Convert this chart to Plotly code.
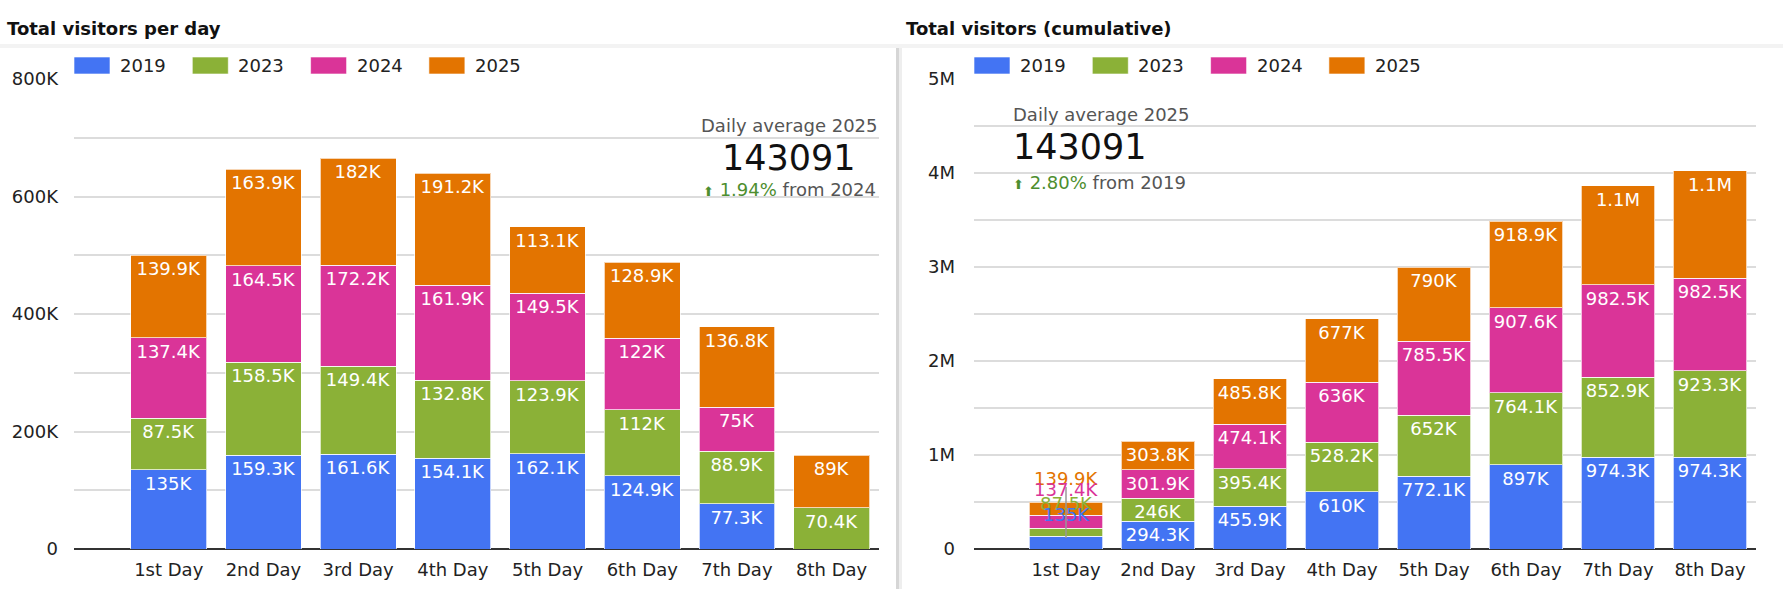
import plotly.graph_objects as go

# ---------------- data (values in thousands of visitors) ----------------
days = ["1st Day", "2nd Day", "3rd Day", "4th Day", "5th Day", "6th Day", "7th Day", "8th Day"]
years = ["2019", "2023", "2024", "2025"]
colors = ["#4374F3", "#8BB137", "#DA3498", "#E37400"]

daily_2019 = [135.0, 159.3, 161.6, 154.1, 162.1, 124.9, 77.3, None]
daily_2023 = [87.5, 158.5, 149.4, 132.8, 123.9, 112.0, 88.9, 70.4]
daily_2024 = [137.4, 164.5, 172.2, 161.9, 149.5, 122.0, 75.0, None]
daily_2025 = [139.9, 163.9, 182.0, 191.2, 113.1, 128.9, 136.8, 89.0]

cum_2019 = [135.0, 294.3, 455.9, 610.0, 772.1, 897.0, 974.3, 974.3]
cum_2023 = [87.5, 246.0, 395.4, 528.2, 652.0, 764.1, 852.9, 923.3]
cum_2024 = [137.4, 301.9, 474.1, 636.0, 785.5, 907.6, 982.5, 982.5]
cum_2025 = [139.9, 303.8, 485.8, 677.0, 790.0, 918.9, 1055.8, 1144.8]

left_tickvals = [0, 200000, 400000, 600000, 800000]
left_ticktext = ["0", "200K", "400K", "600K", "800K"]
right_tickvals = [0, 1000000, 2000000, 3000000, 4000000, 5000000]
right_ticktext = ["0", "1M", "2M", "3M", "4M", "5M"]

title_left = "Total visitors per day"
title_right = "Total visitors (cumulative)"
card_label = "Daily average 2025"
card_value = "143091"
card_left_change = ("1.94%", "from 2024")
card_right_change = ("2.80%", "from 2019")

# ---------------- helpers ----------------
W, H = 1783, 589
FONT = "DejaVu Sans"
FS = 18


def px(x):
    return x / W


def py(y):
    return 1 - y / H


def fmt(v):
    if v is None:
        return ""
    if v >= 1000:
        return f"{v / 1000:.1f}".rstrip("0").rstrip(".") + "M"
    return f"{v:.1f}".rstrip("0").rstrip(".") + "K"


daily = [daily_2019, daily_2023, daily_2024, daily_2025]
cum = [cum_2019, cum_2023, cum_2024, cum_2025]

fig = go.Figure()

for i, yr in enumerate(years):
    vals = daily[i]
    fig.add_trace(go.Bar(
        x=days, y=[None if v is None else v * 1000 for v in vals],
        name=yr, marker=dict(color=colors[i], line=dict(color="rgba(255,255,255,0.7)", width=1)),
        text=[fmt(v) for v in vals], texttemplate="%{text}",
        textposition="inside", insidetextanchor="end", textangle=0,
        textfont=dict(color="white", size=FS, family=FONT),
        xaxis="x", yaxis="y", showlegend=False, hoverinfo="x+y+name",
    ))

for i, yr in enumerate(years):
    vals = cum[i]
    texts = [fmt(v) for v in vals]
    texts[0] = ""  # first day labels don't fit; drawn outside below
    fig.add_trace(go.Bar(
        x=days, y=[v * 1000 for v in vals],
        name=yr, marker=dict(color=colors[i], line=dict(color="rgba(255,255,255,0.7)", width=1)),
        text=texts, texttemplate="%{text}",
        textposition="inside", insidetextanchor="end", textangle=0,
        textfont=dict(color="white", size=FS, family=FONT),
        xaxis="x2", yaxis="y2", showlegend=False, hoverinfo="x+y+name",
    ))

ydom = [py(549), py(79)]
axis_common = dict(showgrid=False, type="category", range=[-1, 7.5], fixedrange=True,
                   tickfont=dict(size=FS, family=FONT, color="#222"), ticklabelstandoff=8,
                   showline=False, zeroline=False, automargin=False)
yaxis_common = dict(showgrid=True, gridcolor="#dcdcdc", gridwidth=2,
                    zeroline=True, zerolinecolor="#333", zerolinewidth=2,
                    tickfont=dict(size=FS, family=FONT, color="#222"), ticks="",
                    domain=ydom, fixedrange=True, automargin=False)

annotations = []
shapes = []

# titles
annotations.append(dict(xref="paper", yref="paper", x=px(5), y=py(28), xanchor="left", yanchor="middle",
                        text=f"<b>{title_left}</b>", showarrow=False,
                        font=dict(size=FS, family=FONT, color="#111")))
annotations.append(dict(xref="paper", yref="paper", x=px(904), y=py(28), xanchor="left", yanchor="middle",
                        text=f"<b>{title_right}</b>", showarrow=False,
                        font=dict(size=FS, family=FONT, color="#111")))

# panel separators
shapes.append(dict(type="rect", xref="paper", yref="paper", x0=0, x1=1, y0=py(48), y1=py(44),
                   fillcolor="#f3f3f3", line=dict(width=0), layer="below"))
shapes.append(dict(type="rect", xref="paper", yref="paper", x0=px(896), x1=px(899), y0=0, y1=py(48),
                   fillcolor="#d6d6d6", line=dict(width=0), layer="below"))
shapes.append(dict(type="rect", xref="paper", yref="paper", x0=px(899), x1=px(902), y0=0, y1=py(48),
                   fillcolor="#eeeeee", line=dict(width=0), layer="below"))

# manual legends
for left in (74, 974):
    for i, yr in enumerate(years):
        x0 = left + i * 118.3
        shapes.append(dict(type="rect", xref="paper", yref="paper", x0=px(x0), x1=px(x0 + 36),
                           y0=py(74), y1=py(57), fillcolor=colors[i],
                           line=dict(color="rgba(255,255,255,0.6)", width=1)))
        annotations.append(dict(xref="paper", yref="paper", x=px(x0 + 44), y=py(66), xanchor="left",
                                yanchor="middle", text=yr, showarrow=False,
                                font=dict(size=FS, family=FONT, color="#222")))


def card(x, anchor, ys, change):
    pct, rest = change
    annotations.append(dict(xref="paper", yref="paper", x=px(x), y=py(ys[0]), xanchor=anchor, yanchor="middle",
                            text=card_label, showarrow=False, font=dict(size=FS, family=FONT, color="#555")))
    annotations.append(dict(xref="paper", yref="paper", x=px(x), y=py(ys[1]), xanchor=anchor, yanchor="middle",
                            text=card_value, showarrow=False, font=dict(size=35, family=FONT, color="#111")))
    annotations.append(dict(xref="paper", yref="paper", x=px(x), y=py(ys[2]), xanchor=anchor, yanchor="middle",
                            text=f"<span style='font-size:13px;color:#4d8e2e'>⬆</span> "
                                 f"<span style='color:#4d8e2e'>{pct}</span> {rest}",
                            showarrow=False, font=dict(size=FS, family=FONT, color="#555")))


card(789, "center", (125, 158, 190), card_left_change)
card(1011, "left", (115, 147, 182), card_right_change)

# first-day cumulative labels drawn outside the short bar
total0 = sum(c[0] for c in cum) * 1000
shifts = [-12, -1, 13, 24]
shapes.append(dict(type="line", xref="x2", yref="y2", x0=0, x1=0, ysizemode="pixel", yanchor=total0,
                   y0=-36, y1=15, line=dict(color="#999", width=1.5)))
for i in reversed(range(4)):
    annotations.append(dict(xref="x2", yref="y2", x=days[0], y=total0, yshift=shifts[i], showarrow=False,
                            text=fmt(cum[i][0]), xanchor="center", yanchor="middle",
                            font=dict(size=FS, family=FONT, color=colors[i])))

fig.update_layout(
    width=W, height=H, margin=dict(l=0, r=0, t=0, b=0, pad=0, autoexpand=False),
    paper_bgcolor="white", plot_bgcolor="white",
    barmode="stack", bargap=0.2, showlegend=False,
    font=dict(family=FONT, size=FS, color="#222"),
    uniformtext=dict(minsize=FS, mode="show"),
    xaxis=dict(domain=[px(74), px(879)], anchor="y", **axis_common),
    xaxis2=dict(domain=[px(974), px(1756)], anchor="y2", **axis_common),
    yaxis=dict(anchor="x", range=[0, 800000], tickvals=left_tickvals, ticktext=left_ticktext,
               ticklabelstandoff=15,
               minor=dict(dtick=100000, showgrid=True, gridcolor="#dcdcdc", gridwidth=2),
               **yaxis_common),
    yaxis2=dict(anchor="x2", range=[0, 5000000], tickvals=right_tickvals, ticktext=right_ticktext,
                ticklabelstandoff=18,
                minor=dict(dtick=500000, showgrid=True, gridcolor="#dcdcdc", gridwidth=2),
                **yaxis_common),
    annotations=annotations, shapes=shapes,
)

fig.write_html("out.html",
               post_script="document.body.style.margin='0';document.body.style.padding='0';"
                           "document.documentElement.style.overflow='hidden';")
